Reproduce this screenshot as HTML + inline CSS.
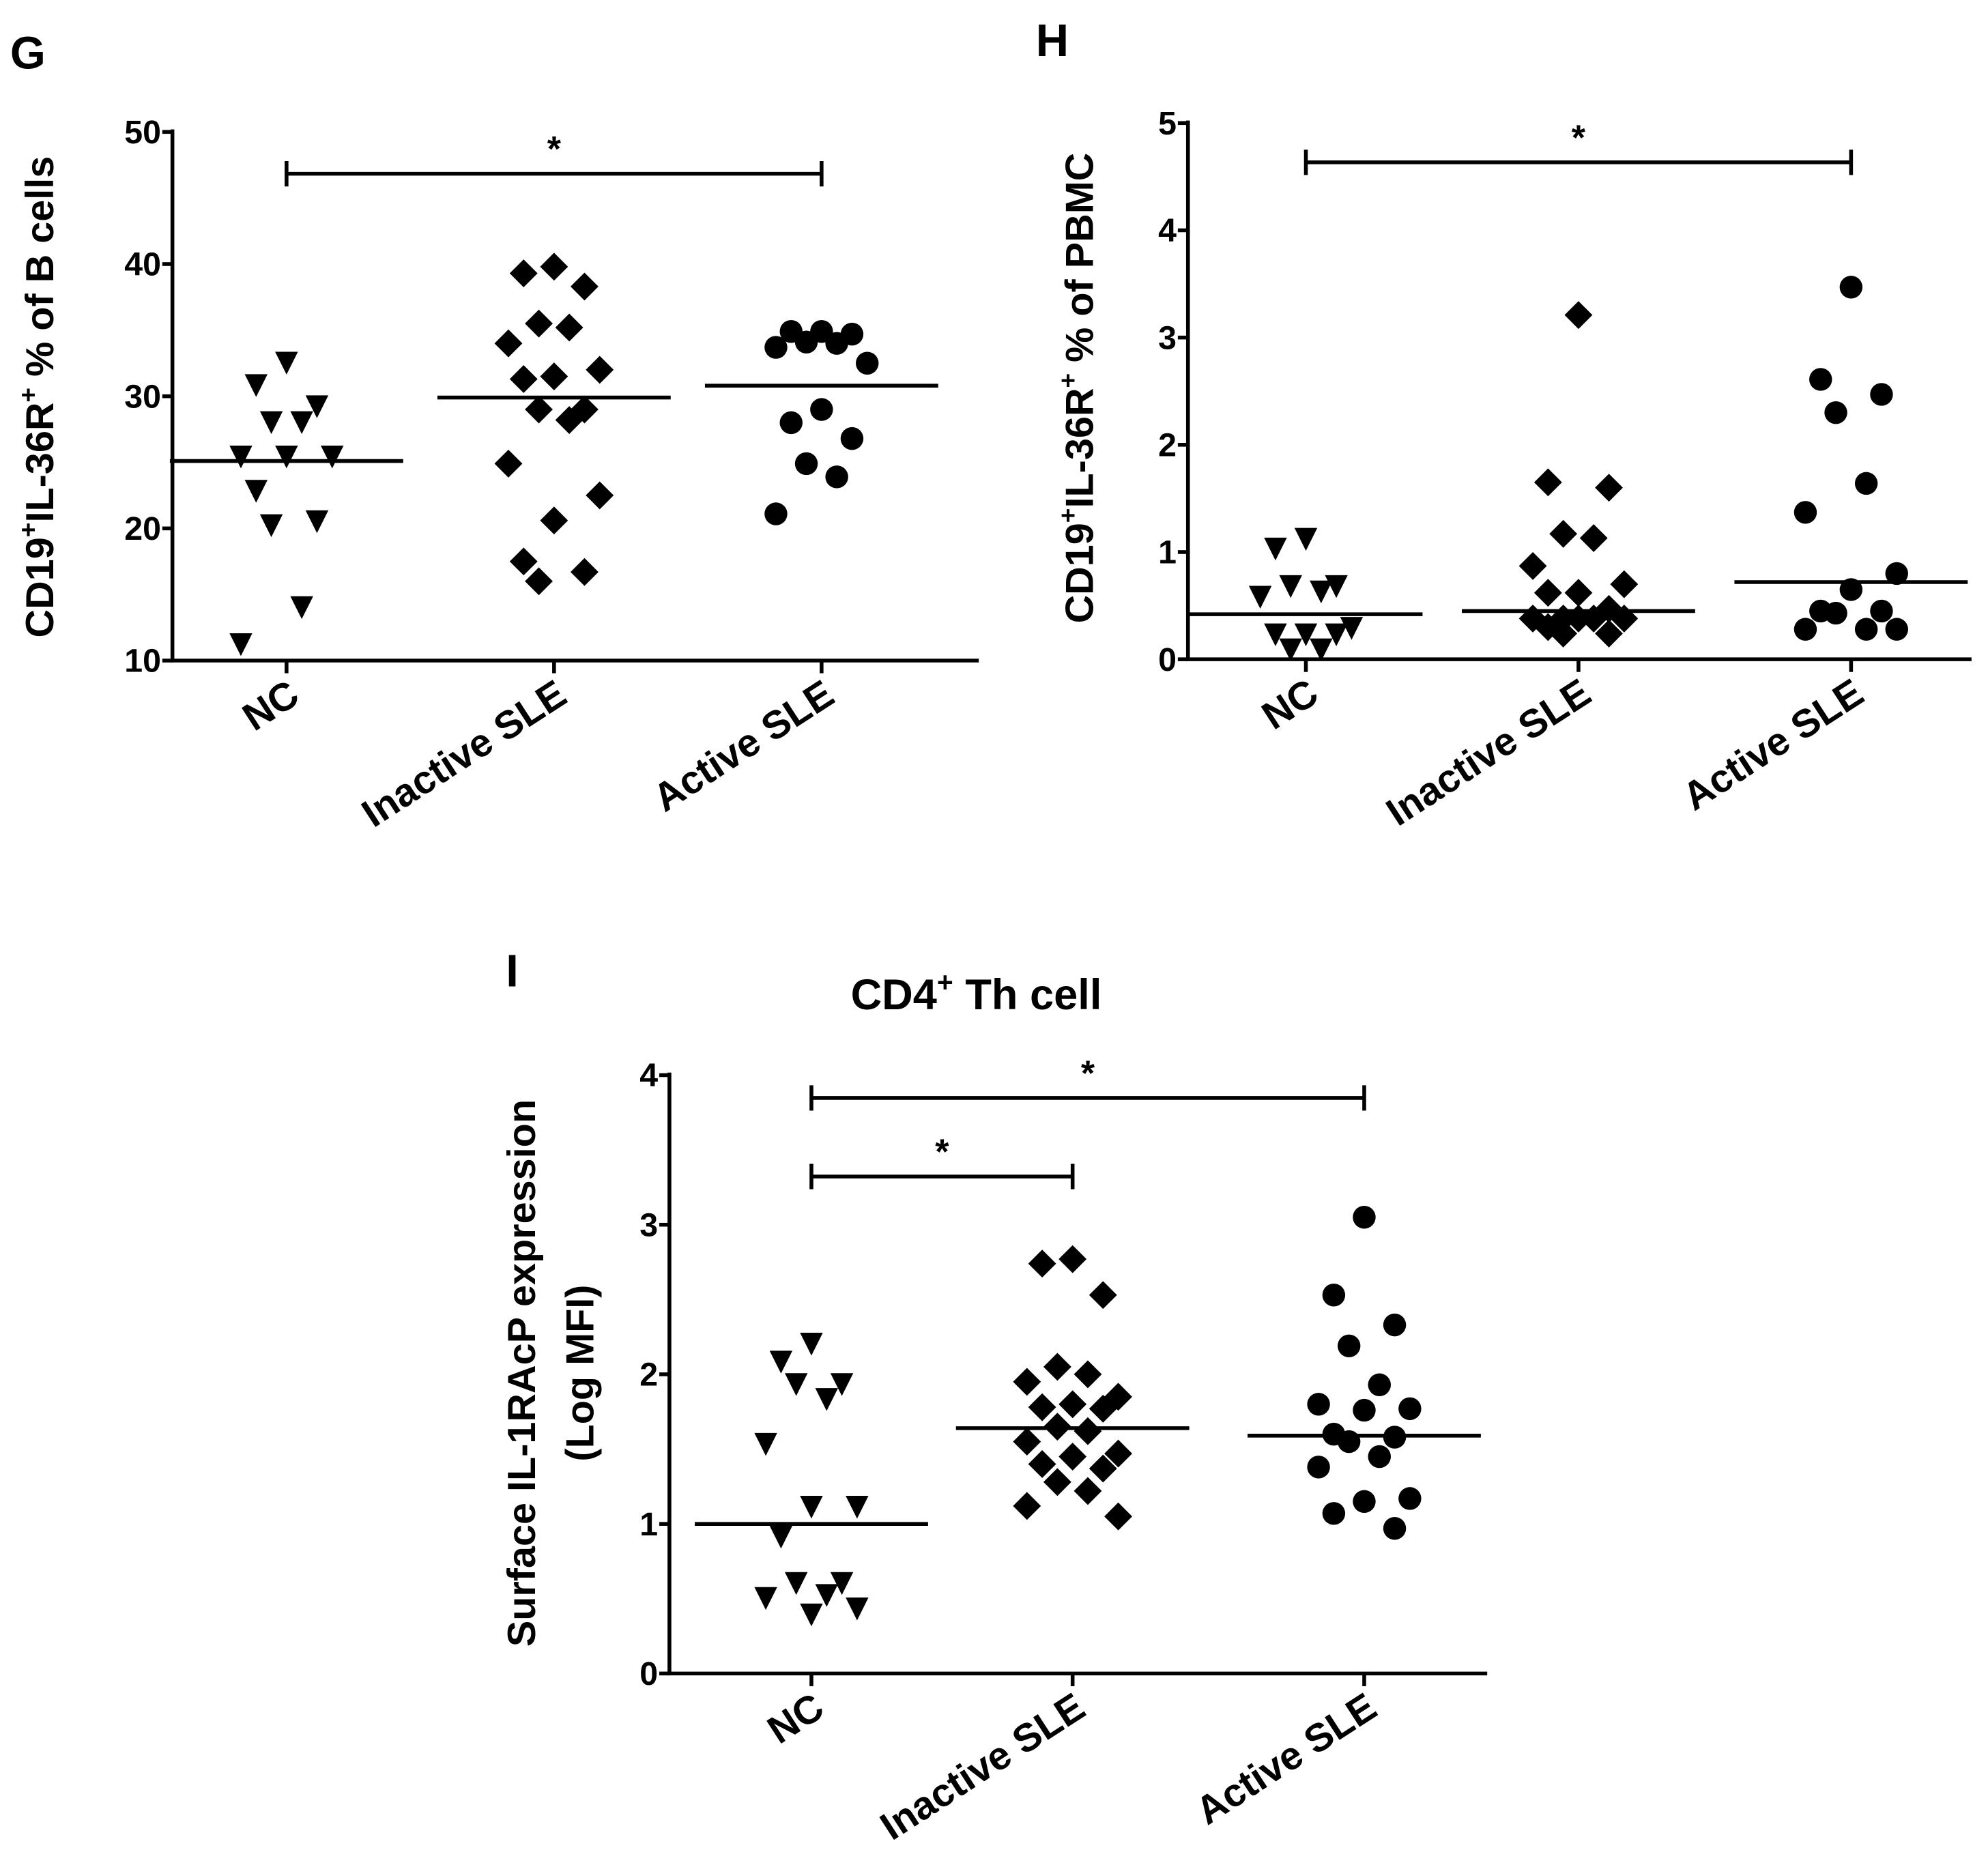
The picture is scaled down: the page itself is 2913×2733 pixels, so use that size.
<!DOCTYPE html>
<html><head><meta charset="utf-8"><style>
html,body{margin:0;padding:0;background:#fff;}
svg{display:block;}
text{font-family:"Liberation Sans",Arial,sans-serif;font-weight:bold;fill:#000;}
</style></head><body>
<svg id="fig" width="2913" height="2733" viewBox="0 0 1568 1471" xmlns="http://www.w3.org/2000/svg"></svg>
<script>
const categories = ["NC","Inactive SLE","Active SLE"];
// Panel G values
const gNC = [32.6,30.9,29.3,28.1,28.1,25.5,25.5,25.5,22.9,20.6,20.3,14.1,11.3];
const gInactive = [39.8,39.3,38.3,35.5,35.2,34.0,32.0,31.5,31.3,29.0,29.0,28.2,24.9,22.5,20.6,17.5,16.7,16.0];
const gActive = [34.9,34.9,34.7,34.1,34.0,33.7,32.5,29.0,28.0,26.8,24.9,23.9,21.1];
const gMedians = [25.1,29.9,30.8];
const gTicks = [10,20,30,40,50];
// Panel H values
const hNC = [1.13,1.04,0.69,0.69,0.64,0.59,0.30,0.24,0.24,0.24,0.10,0.10];
const hInactive = [3.21,1.65,1.60,1.17,1.13,0.87,0.70,0.62,0.62,0.47,0.38,0.38,0.38,0.38,0.38,0.30,0.24,0.24];
const hActive = [3.47,2.61,2.47,2.30,1.64,1.37,0.80,0.65,0.45,0.45,0.43,0.28,0.28,0.28];
const hMedians = [0.42,0.45,0.72];
const hTicks = [0,1,2,3,4,5];
// Panel I values
const iNC = [2.21,2.09,1.94,1.94,1.84,1.54,1.12,1.12,0.92,0.61,0.61,0.53,0.51,0.44,0.40];
const iInactive = [2.77,2.74,2.53,2.05,2.00,1.95,1.85,1.80,1.78,1.77,1.65,1.62,1.55,1.47,1.45,1.40,1.37,1.28,1.22,1.12,1.05];
const iActive = [3.05,2.53,2.33,2.19,1.93,1.80,1.77,1.76,1.60,1.58,1.55,1.45,1.38,1.17,1.15,1.07,0.97];
const iMedians = [1.00,1.64,1.59];
const iTicks = [0,1,2,3,4];

const NS="http://www.w3.org/2000/svg";
const svg=document.getElementById('fig');
function mk(tag,attrs,parent){const e=document.createElementNS(NS,tag);for(const k in attrs)e.setAttribute(k,attrs[k]);(parent||svg).appendChild(e);return e;}
const jit=[0,-24,24,-12,12,-36,36];

function panel(cfg){
  const g=mk('g',{});
  
  
  const y=v=>cfg.y0+(v-cfg.vmin)/(cfg.vmax-cfg.vmin)*(cfg.y1-cfg.y0);
  const ax=mk('path',{d:`M${cfg.ax},${cfg.y1-2} L${cfg.ax},${cfg.y0} L${cfg.axEnd},${cfg.y0}`,stroke:'#000','stroke-width':3,fill:'none'},g);
  
  
  cfg.ticks.forEach(t=>{
    mk('line',{x1:cfg.ax-8,x2:cfg.ax,y1:y(t),y2:y(t),stroke:'#000','stroke-width':3},g);
    const tx=mk('text',{x:cfg.ax-9,y:y(t)+9,'text-anchor':'end','font-size':26},g);
    tx.textContent=t;
    
    
  });
  categories.forEach((c,i)=>{
    const cx=cfg.cx[i];
    mk('line',{x1:cx,x2:cx,y1:cfg.y0,y2:cfg.y0+10,stroke:'#000','stroke-width':3},g);
    const tx=mk('text',{x:0,y:0,'text-anchor':'end','font-size':31,transform:`translate(${cx+12},${cfg.y0+32}) rotate(-33)`},g);
    tx.textContent=c;
    
    
    cfg.data[i].forEach((v,k)=>{
      const px=cx+jit[k%jit.length], py=y(v); let m;
      if(i===0) m=mk('path',{d:`M${px-9},${py-8} L${px+9},${py-8} L${px},${py+10} Z`},g);
      else if(i===1) m=mk('path',{d:`M${px},${py-11} L${px+11},${py} L${px},${py+11} L${px-11},${py} Z`},g);
      else m=mk('circle',{cx:px,cy:py,r:9},g);
      
      
    });
    const ml=mk('line',{x1:cx-92,x2:cx+92,y1:y(cfg.medians[i]),y2:y(cfg.medians[i]),stroke:'#000','stroke-width':3},g);
    
    
  });
  cfg.bars.forEach(b=>{
    const x1=cfg.cx[b[0]],x2=cfg.cx[b[1]];
    const p=mk('path',{d:`M${x1},${b[2]-10}V${b[2]+10}M${x1},${b[2]}H${x2}M${x2},${b[2]-10}V${b[2]+10}`,stroke:'#000','stroke-width':3,fill:'none'},g);
    
    
    const s=mk('text',{x:(x1+x2)/2,y:b[2]-10,'text-anchor':'middle','font-size':28},g);
    s.textContent='*';
    
    
  });
  return g;
}

panel({name:'panel-g',ax:136,axEnd:772,y0:521,y1:104,vmin:10,vmax:50,ticks:gTicks,cx:[226,437,648],data:[gNC,gInactive,gActive],medians:gMedians,bars:[[0,2,137]]});
panel({name:'panel-h',ax:937,axEnd:1555,y0:520,y1:97,vmin:0,vmax:5,ticks:hTicks,cx:[1030,1245,1460],data:[hNC,hInactive,hActive],medians:hMedians,bars:[[0,2,128]]});
panel({name:'panel-i',ax:528,axEnd:1173,y0:1320,y1:848,vmin:0,vmax:4,ticks:iTicks,cx:[640,846,1076],data:[iNC,iInactive,iActive],medians:iMedians,bars:[[0,2,866],[0,1,928]]});
</script>
<script>
const s2=document.getElementById('fig');
function T(x,y,size,html,name,rot){const t=document.createElementNS("http://www.w3.org/2000/svg",'text');t.setAttribute('x',x);t.setAttribute('y',y);t.setAttribute('font-size',size);t.setAttribute('text-anchor','middle');if(rot)t.setAttribute('transform',`rotate(-90 ${x} ${y})`);t.innerHTML=html;s2.appendChild(t);return t;}
T(22,54,36,'G','panel-label-g');
T(830,44,36,'H','panel-label-h');
T(404,778,36,'I','panel-label-i');
T(770,796,34,'CD4<tspan font-size="22" dy="-14">+</tspan><tspan dy="14"> Th cell</tspan>','panel-i-title');
T(42,313,31,'CD19<tspan font-size="20" dy="-13">+</tspan><tspan dy="13">IL-36R</tspan><tspan font-size="20" dy="-13">+</tspan><tspan dy="13"> % of B cells</tspan>','y-axis-title-g',true);
T(862,306,31,'CD19<tspan font-size="20" dy="-13">+</tspan><tspan dy="13">IL-36R</tspan><tspan font-size="20" dy="-13">+</tspan><tspan dy="13"> % of PBMC</tspan>','y-axis-title-h',true);
T(422,1083,31,'Surface IL-1RAcP expression','y-axis-title-i',true);
T(468,1083,31,'(Log MFI)','y-axis-subtitle-i',true);
</script>
</body></html>
